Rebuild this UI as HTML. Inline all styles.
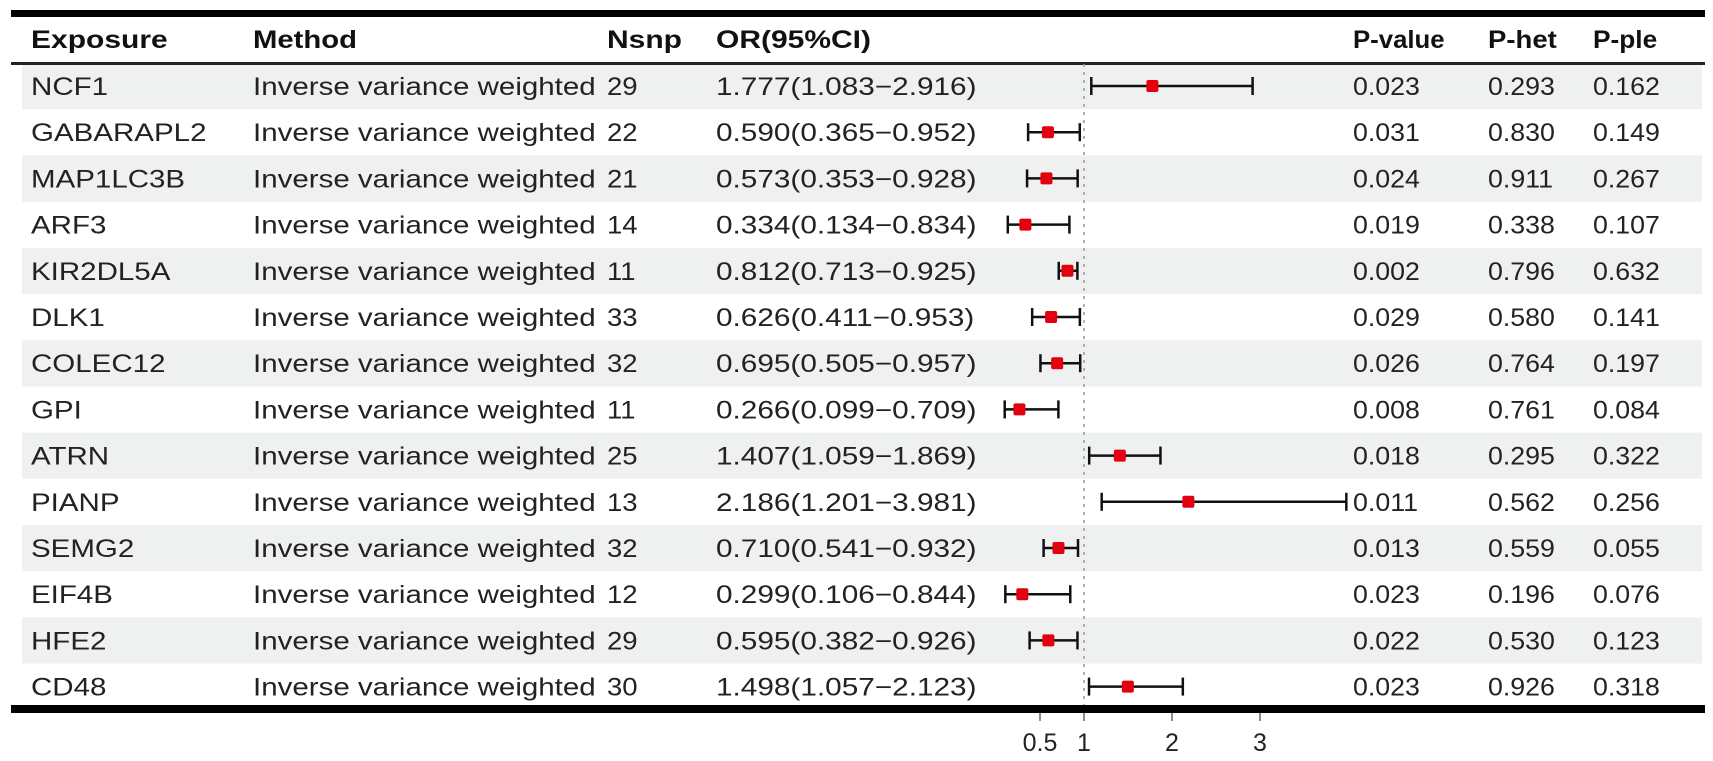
<!DOCTYPE html>
<html><head><meta charset="utf-8"><style>
html,body{margin:0;padding:0;background:#fff;}
svg{display:block;font-family:"Liberation Sans",Arial,sans-serif;}
</style></head><body>
<svg id="c" width="1713" height="761"></svg>
<script>
const exposures=["NCF1","GABARAPL2","MAP1LC3B","ARF3","KIR2DL5A","DLK1","COLEC12","GPI","ATRN","PIANP","SEMG2","EIF4B","HFE2","CD48"];
const nsnp=[29,22,21,14,11,33,32,11,25,13,32,12,29,30];
const orVals=[1.777,0.590,0.573,0.334,0.812,0.626,0.695,0.266,1.407,2.186,0.710,0.299,0.595,1.498];
const lowVals=[1.083,0.365,0.353,0.134,0.713,0.411,0.505,0.099,1.059,1.201,0.541,0.106,0.382,1.057];
const highVals=[2.916,0.952,0.928,0.834,0.925,0.953,0.957,0.709,1.869,3.981,0.932,0.844,0.926,2.123];
const pValue=["0.023","0.031","0.024","0.019","0.002","0.029","0.026","0.008","0.018","0.011","0.013","0.023","0.022","0.023"];
const pHet=["0.293","0.830","0.911","0.338","0.796","0.580","0.764","0.761","0.295","0.562","0.559","0.196","0.530","0.926"];
const pPle=["0.162","0.149","0.267","0.107","0.632","0.141","0.197","0.084","0.322","0.256","0.055","0.076","0.123","0.318"];
const ticks=[0.5,1,2,3];
const tickLabels=["0.5","1","2","3"];

const NS="http://www.w3.org/2000/svg";
const svgEl=document.getElementById('c');
function mk(tag,attrs){const e=document.createElementNS(NS,tag);for(const k in attrs)e.setAttribute(k,attrs[k]);svgEl.appendChild(e);return e;}
const xs=v=>1084+(v-1)*88;
const rowY=i=>86+i*46.2;
function stretch(t,ratio){
  const w=t.getComputedTextLength();
  if(w>0){t.setAttribute('textLength',(w*ratio).toFixed(1));t.setAttribute('lengthAdjust','spacingAndGlyphs');}
}

for(let i=0;i<exposures.length;i++){
  if(i%2===0){
    const r=mk('rect',{x:22,y:rowY(i)-23,width:1680,height:46.2,fill:'#eef1f0'});
    
    
  }
}
const topRule=mk('rect',{x:11,y:10,width:1694,height:7,fill:'#000'});


const headRule=mk('rect',{x:11,y:62,width:1694,height:3,fill:'#222'});


const bottomRule=mk('rect',{x:11,y:705,width:1694,height:8,fill:'#000'});


const refLine=mk('line',{x1:xs(1),x2:xs(1),y1:64,y2:705,stroke:'#999','stroke-width':1.5,'stroke-dasharray':'3,5'});



const heads=[["Exposure",31,1.2],["Method",253,1.17],["Nsnp",607,1.2],["OR(95%CI)",716,1.2],["P-value",1353,1.03],["P-het",1488,1.1],["P-ple",1593,1.05]];
heads.forEach(h=>{
  const t=mk('text',{x:h[1],y:48,'font-size':25,'font-weight':'bold',fill:'#111'});
  t.textContent=h[0];
  
  
  stretch(t,h[2]);
});

function txt(s,x,y,name,ratio){
  const t=mk('text',{x:x,y:y,'font-size':25,fill:'#222'});
  t.textContent=s;
  
  
  stretch(t,ratio);
}
for(let i=0;i<exposures.length;i++){
  const y=rowY(i), ty=y+9;
  txt(exposures[i],31,ty,'exposure-label',1.18);
  txt("Inverse variance weighted",253,ty,'method-label',1.18);
  txt(String(nsnp[i]),607,ty,'nsnp-value',1.1);
  txt(orVals[i].toFixed(3)+"("+lowVals[i].toFixed(3)+"\u2212"+highVals[i].toFixed(3)+")",716,ty,'or-ci-text',1.19);
  txt(pValue[i],1353,ty,'p-value',1.07);
  txt(pHet[i],1488,ty,'p-het',1.07);
  txt(pPle[i],1593,ty,'p-ple',1.07);
  const ci=mk('line',{x1:xs(lowVals[i]),x2:xs(highVals[i]),y1:y,y2:y,stroke:'#111','stroke-width':2.5});
  
  
  [lowVals[i],highVals[i]].forEach(v=>{
    const c=mk('line',{x1:xs(v),x2:xs(v),y1:y-9,y2:y+9,stroke:'#111','stroke-width':2.5});
    
    
  });
  const p=mk('rect',{x:xs(orVals[i])-6,y:y-6,width:12,height:12,rx:2,fill:'#e3000f'});
  
  
}
ticks.forEach((v,k)=>{
  const l=mk('line',{x1:xs(v),x2:xs(v),y1:713,y2:721,stroke:'#666','stroke-width':1.5});
  
  
  const t=mk('text',{x:xs(v),y:751,'font-size':25,fill:'#222','text-anchor':'middle'});
  t.textContent=tickLabels[k];
  
  
});
</script>
</body></html>
